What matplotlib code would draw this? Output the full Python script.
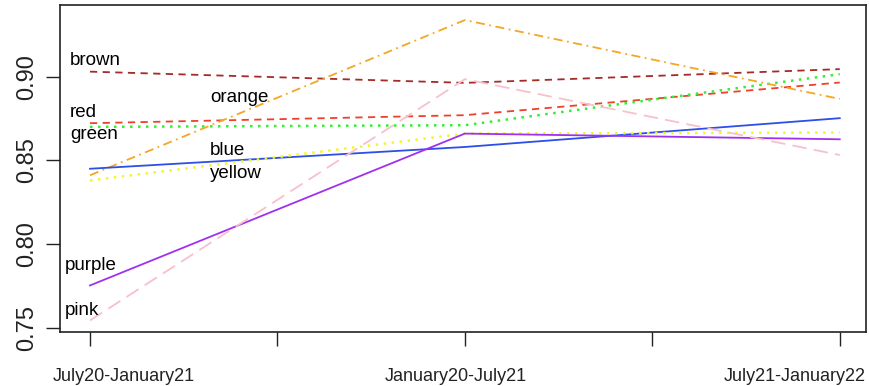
import numpy as np
import matplotlib
matplotlib.use('Agg')
import matplotlib.pyplot as plt
import matplotlib.transforms as mtransforms

plt.rcParams['font.family'] = ['Liberation Sans', 'DejaVu Sans']

periods = ['July20-January21', 'January20-July21', 'July21-January22']
x = np.array([1, 2, 3])

brown = [0.903, 0.8963, 0.9045]
red = [0.8722, 0.877, 0.8965]
green = [0.870, 0.871, 0.9015]
orange = [0.8411, 0.9338, 0.8867]
blue = [0.845, 0.858, 0.8752]
yellow = [0.838, 0.866, 0.8666]
purple = [0.7753, 0.866, 0.8626]
pink = [0.7544, 0.8985, 0.8532]

# label positions (x, y) for the text annotations
label_pos = {
    'brown': (0.947, 0.9099),
    'red': (0.947, 0.8788),
    'green': (0.947, 0.8655),
    'orange': (1.32, 0.8877),
    'blue': (1.32, 0.8558),
    'yellow': (1.32, 0.8420),
    'purple': (0.933, 0.7873),
    'pink': (0.933, 0.7604),
}

fig = plt.figure(figsize=(8.69, 3.86), dpi=100)
ax = fig.add_axes([60/869, 1-332/386, 806/869, 327/386])

ax.plot(x, brown, color='#A52A2A', ls=(0, (4, 3)), lw=1.3)
ax.plot(x, red, color='#F0402A', ls=(0, (4, 3)), lw=1.3)
ax.plot(x, green, color='#33EE33', ls=(0, (1, 2.2)), lw=1.8)
ax.plot(x, orange, color='#F5A623', ls=(0, (5, 2.5, 1, 2.5)), lw=1.3)
ax.plot(x, blue, color='#2E4EE8', ls='-', lw=1.3)
ax.plot(x, yellow, color='#F5F52A', ls=(0, (1, 2.2)), lw=1.8)
ax.plot(x, purple, color='#A030F0', ls='-', lw=1.3)
ax.plot(x, pink, color='#F8C0CB', ls=(0, (8, 4)), lw=1.3)

for name, (tx, ty) in label_pos.items():
    ax.text(tx, ty, name, fontsize=13.5, ha='left', va='center')

ax.set_xlim(0.92, 3.07)
ax.set_ylim(0.7475, 0.9428)
ax.set_xticks([1, 1.5, 2, 2.5, 3])
ax.set_xticklabels([periods[0], '', periods[1], '', periods[2]], fontsize=13)
ax.set_yticks([0.75, 0.80, 0.85, 0.90])
ax.set_yticklabels(['0.75', '0.80', '0.85', '0.90'], rotation=90, va='center', fontsize=17)
ax.tick_params(axis='x', length=10, width=1, pad=16, colors='#222222')
ax.tick_params(axis='y', length=10, width=1, pad=6, colors='#222222')
for s in ax.spines.values():
    s.set_color('#222222')
    s.set_linewidth(1.2)

# shift the x labels so they stay inside the figure, like the original
labels = ax.get_xticklabels()
shifts = {0: ('left', -37), 2: ('center', -9), 4: ('right', 26)}
for i, (ha, dx) in shifts.items():
    labels[i].set_ha(ha)
    labels[i].set_transform(labels[i].get_transform() +
                            mtransforms.ScaledTranslation(dx/100, 0, fig.dpi_scale_trans))

fig.savefig('out.png', dpi=100)
